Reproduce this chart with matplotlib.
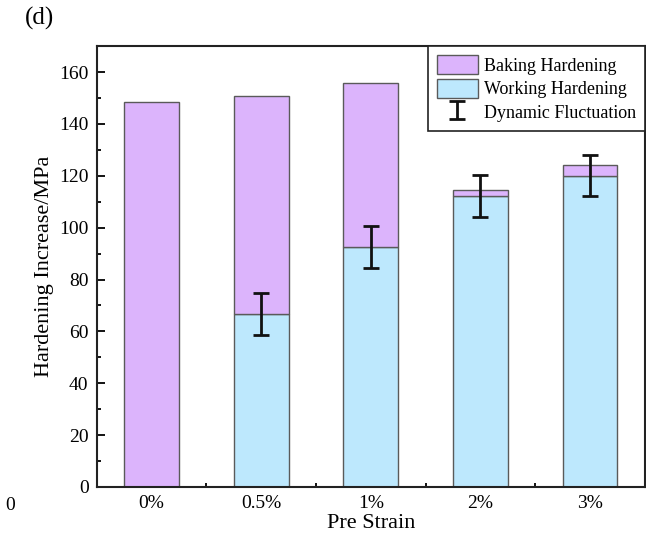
import numpy as np
import matplotlib.pyplot as plt
from matplotlib.ticker import MultipleLocator

plt.rcParams['font.family'] = ['Liberation Serif', 'DejaVu Serif']

strain = ['0%', '0.5%', '1%', '2%', '3%']
working = [0, 66.7, 92.5, 112.2, 120.1]
total = [148.5, 150.8, 155.8, 114.6, 124.2]
fluct = [0, 8, 8, 8, 8]

baking = [t - w for t, w in zip(total, working)]
x = np.arange(len(strain))

fig = plt.figure(figsize=(6.46, 5.39), dpi=100)
ax = fig.add_axes([0.150, 0.0965, 0.848, 0.818])

edge = '#5a5a5a'
ax.bar(x, working, width=0.5, color='#bde8fd', edgecolor=edge, linewidth=1.0,
       label='Working Hardening', zorder=2)
ax.bar(x, baking, width=0.5, bottom=working, color='#dcb4fc', edgecolor=edge,
       linewidth=1.0, label='Baking Hardening', zorder=2)

# fluctuation only for the pre-strained samples
ax.errorbar(x[1:], working[1:], yerr=fluct[1:], fmt='none', ecolor='#111111',
            elinewidth=2, capsize=6, capthick=2, label='Dynamic Fluctuation', zorder=3)

ax.set_xlim(-0.5, 4.5)
ax.set_ylim(0, 170)
ax.set_xticks(x)
ax.set_xticklabels(strain)
ax.xaxis.set_minor_locator(MultipleLocator(0.5))
ax.yaxis.set_major_locator(MultipleLocator(20))
ax.yaxis.set_minor_locator(MultipleLocator(10))
ax.tick_params(which='both', direction='in', labelsize=14, width=1.3)
ax.tick_params(which='major', length=6, pad=6)
ax.tick_params(which='minor', length=3)
for s in ax.spines.values():
    s.set_linewidth(1.5)
    s.set_color('#222222')

ax.set_xlabel('Pre Strain', fontsize=16, labelpad=1)
ax.set_ylabel('Hardening Increase/MPa', fontsize=16, labelpad=4)

h, l = ax.get_legend_handles_labels()
order = [l.index('Baking Hardening'), l.index('Working Hardening'), l.index('Dynamic Fluctuation')]
leg = ax.legend([h[i] for i in order], [l[i] for i in order], loc='upper right',
                fontsize=13, frameon=True, fancybox=False, framealpha=1,
                edgecolor='#222222', borderaxespad=0, handlelength=2.3,
                handleheight=1.25, labelspacing=0.22, borderpad=0.5, handletextpad=0.3)
leg.get_frame().set_linewidth(1.2)

fig.text(0.038, 0.965, '(d)', fontsize=18, ha='left', va='center')
fig.text(0.008, 0.062, '0', fontsize=14, ha='left', va='center')

fig.savefig('out.png', dpi=100)
